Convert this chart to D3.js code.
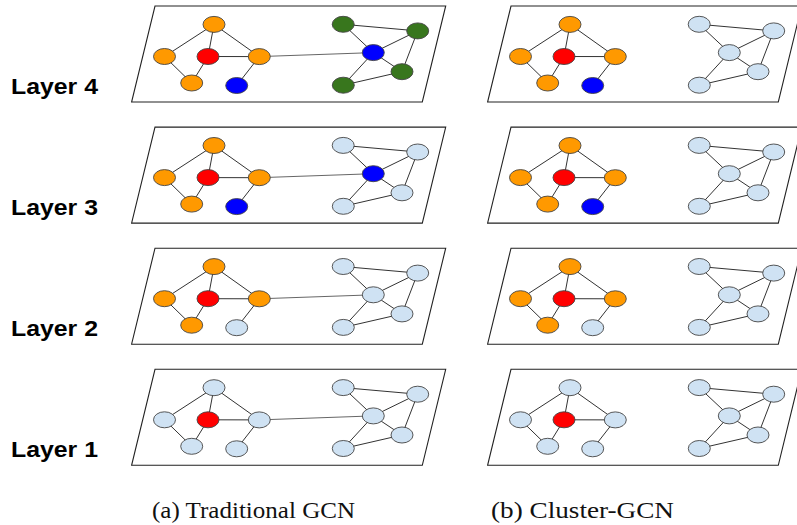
<!DOCTYPE html>
<html>
<head>
<meta charset="utf-8">
<script src="https://cdn.jsdelivr.net/npm/d3@7"></script>
<style>
  html, body { margin: 0; padding: 0; background: #fff; }
  svg { display: block; }
</style>
</head>
<body>
<svg id="fig" width="797" height="525"></svg>
<script>
// Layer rows, top to bottom, and the two column captions
const layerNames = ["Layer 4", "Layer 3", "Layer 2", "Layer 1"];
const panelNames = ["(a) Traditional GCN", "(b) Cluster-GCN"];

// Graph layout in plane units (origin = top-left corner of each plane)
const nodeX = [59, 9.5, 53, 104.3, 36.7, 81.7, 188.2, 262.7, 218.3, 247, 188.3];
const nodeY = [18.4, 50.5, 50.5, 50.6, 77, 79.5, 18.3, 24.9, 46.6, 65.7, 79.2];

// Edges inside the two clusters, plus the single bridge edge between them
const edges = [[0, 1], [0, 2], [0, 3], [1, 4], [4, 2], [2, 3], [3, 5],
               [6, 7], [6, 8], [8, 7], [7, 9], [8, 9], [8, 10], [10, 9]];
const bridgeEdge = [3, 8];

// Node state per layer (o = orange, r = red target, b = blue, g = green, l = inactive)
const traditionalStates = [
  "o o r o o b g g b g g",
  "o o r o o b l l b l l",
  "o o r o o l l l l l l",
  "l l r l l l l l l l l"
];
const clusterStates = [
  "o o r o o b l l l l l",
  "o o r o o b l l l l l",
  "o o r o o l l l l l l",
  "l l r l l l l l l l l"
];

const stateColour = { o: "#ff9900", r: "#ff0000", b: "#0000ff", g: "#38761d", l: "#cfe2f3" };

const svg = d3.select("#fig");

// Plane geometry
const planeW = 290.7, planeH = 96, planeSkew = 23.4;
const rowScale = d3.scaleLinear().domain([0, 3]).range([6, 369.3]);
const colScale = d3.scaleLinear().domain([0, 1]).range([155, 511]);

const panels = [
  { name: panelNames[0], states: traditionalStates, bridge: true },
  { name: panelNames[1], states: clusterStates, bridge: false }
];

// Row labels
svg.selectAll("text.layer")
  .data(layerNames)
  .join("text")
  .attr("class", "layer")
  .attr("x", 11)
  .attr("y", (d, i) => rowScale(i) + 88)
  .attr("font-family", "'Liberation Sans', Arial, sans-serif")
  .attr("font-weight", "bold")
  .attr("font-size", 22)
  .attr("textLength", 87)
  .attr("lengthAdjust", "spacingAndGlyphs")
  .attr("fill", "#000")
  .text(d => d);

panels.forEach((panel, pi) => {
  const x0 = colScale(pi);
  layerNames.forEach((layer, li) => {
    const y0 = rowScale(li);
    const px = d3.scaleLinear().domain([0, 1]).range([x0, x0 + 1]);
    const py = d3.scaleLinear().domain([0, 1]).range([y0, y0 + 1]);
    const g = svg.append("g");

    // the plane
    g.append("path")
      .attr("d", d3.line()([
        [x0, y0], [x0 + planeW, y0],
        [x0 + planeW - planeSkew, y0 + planeH], [x0 - planeSkew, y0 + planeH]
      ]) + "Z")
      .attr("fill", "#fff")
      .attr("stroke", "#222")
      .attr("stroke-width", 1.1);

    const links = panel.bridge ? edges.concat([bridgeEdge]) : edges;
    g.selectAll("line")
      .data(links)
      .join("line")
      .attr("x1", d => px(nodeX[d[0]]))
      .attr("y1", d => py(nodeY[d[0]]))
      .attr("x2", d => px(nodeX[d[1]]))
      .attr("y2", d => py(nodeY[d[1]]))
      .attr("stroke", (d) => d === bridgeEdge ? "#555" : "#333")
      .attr("stroke-width", (d) => d === bridgeEdge ? 0.9 : 1);

    const states = panel.states[li].split(" ");
    g.selectAll("ellipse")
      .data(states)
      .join("ellipse")
      .attr("cx", (d, i) => px(nodeX[i]))
      .attr("cy", (d, i) => py(nodeY[i]))
      .attr("rx", 11)
      .attr("ry", 8)
      .attr("fill", d => stateColour[d])
      .attr("stroke", "#444")
      .attr("stroke-width", 0.9);
  });

  // column caption
  svg.append("text")
    .attr("x", pi === 0 ? 152 : 491)
    .attr("y", 518)
    .attr("font-family", "'Liberation Serif', 'Times New Roman', serif")
    .attr("font-size", 22.5)
    .attr("textLength", pi === 0 ? 203 : 183)
    .attr("lengthAdjust", "spacingAndGlyphs")
    .attr("fill", "#111")
    .text(panel.name);
});
</script>
</body>
</html>
